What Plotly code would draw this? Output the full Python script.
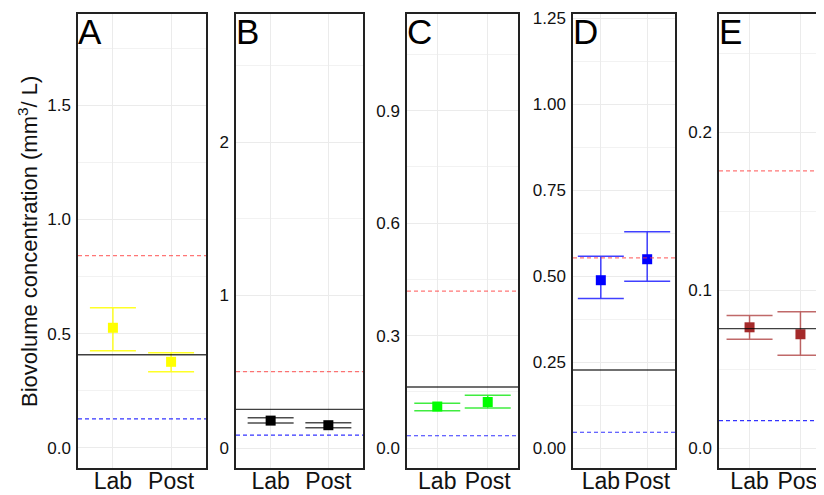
import plotly.graph_objects as go

panels = ["A", "B", "C", "D", "E"]
categories = ["Lab", "Post"]
colors = ["#FFFF00", "#000000", "#00FF00", "#0000FF", "#A52A2A"]
err_colors = ["rgba(255,255,0,0.85)", "rgba(0,0,0,0.7)", "rgba(0,230,0,0.75)",
              "rgba(0,0,255,0.75)", "rgba(165,42,42,0.7)"]

means = [[0.526, 0.377], [0.180, 0.150], [0.111, 0.123], [0.488, 0.549], [0.0766, 0.0722]]
upper = [[0.614, 0.417], [0.198, 0.166], [0.120, 0.141], [0.558, 0.629], [0.0840, 0.0865]]
lower = [[0.425, 0.333], [0.165, 0.133], [0.100, 0.107], [0.435, 0.485], [0.0690, 0.0589]]

solid_ref = [0.408, 0.253, 0.163, 0.227, 0.0757]
red_ref = [0.842, 0.500, 0.419, 0.553, 0.1757]
blue_ref = [0.127, 0.085, 0.033, 0.046, 0.0175]

y_ranges = [[-0.088, 1.90], [-0.13, 2.84], [-0.053, 1.158], [-0.058, 1.262], [-0.0125, 0.275]]
y_dticks = [0.5, 1, 0.3, 0.25, 0.1]
y_formats = [".1f", ".0f", ".1f", ".2f", ".1f"]

# page body has an 8px default margin; size the figure so it fills the window
OFF = 8
W, H = 824 - OFF, 495 - OFF
px_left = [78, 236, 407, 573, 719]
px_right = [206, 363, 518, 675, 824]
x_ranges = [[0.4, 2.6]] * 4 + [[0.4, 0.4 + 2.2 * (824 - 719) / 112]]
y_dom = [1 - (468 - OFF) / H, 1 - (14 - OFF) / H]

fig = go.Figure()
shapes = []
annotations = []
for i in range(5):
    n = "" if i == 0 else str(i + 1)
    xa, ya = "x" + n, "y" + n
    ep = [u - m for u, m in zip(upper[i], means[i])]
    em = [m - l for m, l in zip(means[i], lower[i])]
    fig.add_trace(go.Scatter(
        x=[1, 2], y=means[i], mode="markers", xaxis=xa, yaxis=ya,
        marker=dict(symbol="square", size=10, color=colors[i]),
        error_y=dict(type="data", symmetric=False, array=ep, arrayminus=em,
                     color=err_colors[i], thickness=1.5, width=23),
        showlegend=False, hoverinfo="skip"))
    last = i == 4
    dom = [(px_left[i] - OFF) / W, min(1.0, (px_right[i] - OFF) / W)]
    fig.layout["xaxis" + n] = dict(
        domain=dom, anchor=ya, range=x_ranges[i], automargin=False,
        tickvals=[1, 2], ticktext=categories, showgrid=True, gridcolor="#EBEBEB",
        gridwidth=1, zeroline=False, showline=True, linecolor="#222", linewidth=1.5,
        mirror=True, ticks="", tickfont=dict(size=23, color="#111"),
        ticklabelstandoff=-8, ticklabeloverflow="allow", fixedrange=True)
    fig.layout["yaxis" + n] = dict(
        domain=y_dom, anchor=xa, range=y_ranges[i], dtick=y_dticks[i], tick0=0,
        tickformat=y_formats[i], showgrid=True, gridcolor="#EBEBEB", gridwidth=1,
        minor=dict(dtick=y_dticks[i] / 2, tick0=0, showgrid=True,
                   gridcolor="#F2F2F2", gridwidth=1),
        zeroline=False, showline=True, linecolor="#222", linewidth=1.5,
        mirror=not last, ticks="", ticklabelstandoff=2, automargin=False,
        ticklabeloverflow="allow",
        tickfont=dict(size=17, color="#111"), fixedrange=True)
    xd = xa + " domain"
    shapes.append(dict(type="line", xref=xd, yref=ya, x0=0, x1=1,
                       y0=solid_ref[i], y1=solid_ref[i],
                       line=dict(color="rgba(0,0,0,0.75)", width=1.3)))
    shapes.append(dict(type="line", xref=xd, yref=ya, x0=0, x1=1,
                       y0=red_ref[i], y1=red_ref[i],
                       line=dict(color="rgba(255,60,60,0.7)", width=1.2, dash="4px,3px")))
    shapes.append(dict(type="line", xref=xd, yref=ya, x0=0, x1=1,
                       y0=blue_ref[i], y1=blue_ref[i],
                       line=dict(color="rgba(0,0,255,0.8)", width=1.2, dash="4px,3px")))
    annotations.append(dict(text=panels[i], xref=xd, yref=ya + " domain", x=0.0, y=1.0,
                            xanchor="left", yanchor="top", showarrow=False,
                            xshift=-2, yshift=4,
                            font=dict(size=35, color="#000")))

annotations.append(dict(text="Biovolume concentration (mm<sup>3</sup>/ L)",
                        xref="paper", yref="paper", x=(28 - OFF) / W, y=1 - (242 - OFF) / H,
                        xanchor="center", yanchor="middle", textangle=-90,
                        showarrow=False, font=dict(size=22, color="#111")))

fig.update_layout(
    width=W, height=H, margin=dict(l=0, r=0, t=0, b=0, autoexpand=False),
    paper_bgcolor="white", plot_bgcolor="white",
    font=dict(family="Liberation Sans, Arial, sans-serif"),
    shapes=shapes, annotations=annotations)

fig.write_html("out.html")
